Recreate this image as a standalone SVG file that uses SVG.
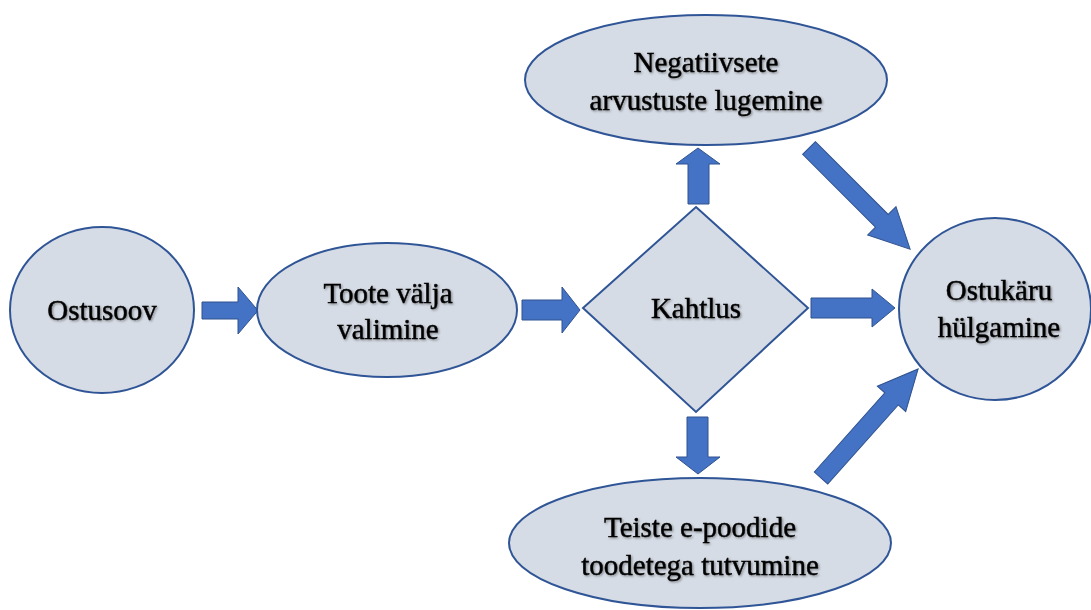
<svg xmlns="http://www.w3.org/2000/svg" width="1091" height="610" viewBox="0 0 1091 610">
  <defs>
    <filter id="ts" x="-10%" y="-30%" width="120%" height="160%">
      <feDropShadow dx="1.2" dy="1.2" stdDeviation="0.8" flood-color="#000" flood-opacity="0.4"/>
    </filter>
  </defs>
  <style>
    .node { fill: #D6DCE5; stroke: #2F5597; stroke-width: 2; }
    .arrow { fill: #4472C4; stroke: #2F528F; stroke-width: 1; }
    .lbl { font-family: "Liberation Serif", "Times New Roman", serif; font-size: 29px; fill: #000; stroke: #000; stroke-width: 0.45; text-anchor: middle; filter: url(#ts); }
  </style>
  <rect width="1091" height="610" fill="#fff"/>

  <g id="connectors">
    <polygon class="arrow" points="202,302 238,302 238,287 258,310.5 238,334 238,319 202,319"/>
    <polygon class="arrow" points="522,300 562,300 562,287 580,310 562,333 562,320 522,320"/>
    <polygon class="arrow" points="811,298 872,298 872,289 895,308 872,327 872,318 811,318"/>
    <polygon class="arrow" points="688,204 688,164 676,164 698,148 720,164 709,164 709,204"/>
    <polygon class="arrow" points="687,417 687,457 676,457 698,474 720,457 708,457 708,417"/>
    <polygon class="arrow" transform="translate(809,148) rotate(45)" points="0,-9 103,-9 103,-20 143,0 103,20 103,9 0,9"/>
    <polygon class="arrow" transform="translate(821,478) rotate(-48.3)" points="0,-9 106,-9 106,-19 146,0 106,19 106,9 0,9"/>
  </g>

  <g id="ostusoov">
    <ellipse class="node" cx="102" cy="310" rx="92" ry="83"/>
    <text class="lbl" x="102" y="320">Ostusoov</text>
  </g>

  <g id="toote-valja-valimine">
    <ellipse class="node" cx="387" cy="310" rx="130" ry="67"/>
    <text class="lbl" x="388" y="303">Toote välja</text>
    <text class="lbl" x="388" y="339">valimine</text>
  </g>

  <g id="kahtlus">
    <polygon class="node" points="696,207 808,308 696,412 583,308"/>
    <text class="lbl" x="696" y="318">Kahtlus</text>
  </g>

  <g id="negatiivsete">
    <ellipse class="node" cx="706" cy="80" rx="181" ry="65"/>
    <text class="lbl" x="706" y="72">Negatiivsete</text>
    <text class="lbl" x="706" y="110">arvustuste lugemine</text>
  </g>

  <g id="teiste-e-poodide">
    <ellipse class="node" cx="700" cy="543" rx="191" ry="65"/>
    <text class="lbl" x="700" y="537">Teiste e-poodide</text>
    <text class="lbl" x="700" y="575">toodetega tutvumine</text>
  </g>

  <g id="ostukaru-hulgamine">
    <ellipse class="node" cx="995" cy="309" rx="96" ry="91"/>
    <text class="lbl" x="999" y="300">Ostukäru</text>
    <text class="lbl" x="999" y="337">hülgamine</text>
  </g>
</svg>
